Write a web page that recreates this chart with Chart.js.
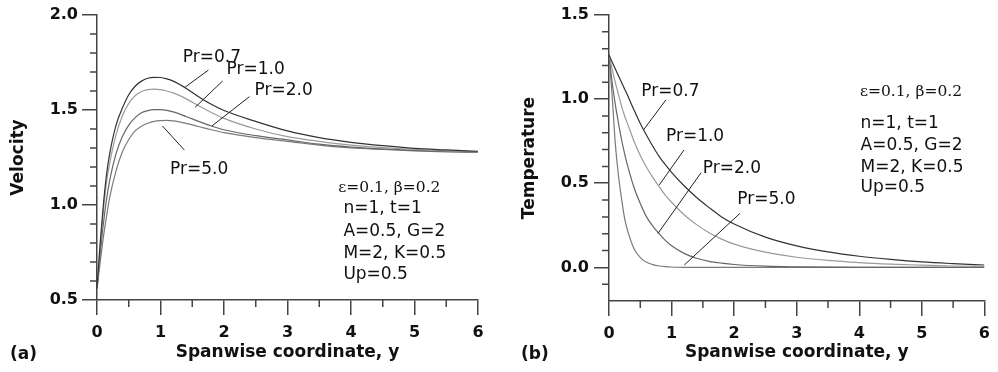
<!DOCTYPE html>
<html>
<head>
<meta charset="utf-8">
<script src="https://cdn.jsdelivr.net/npm/chart.js@4"></script>
<style>
  html, body { margin: 0; padding: 0; background: #fff; }
  #wrap { position: relative; width: 998px; height: 372px; }
  .panel { position: absolute; top: 0; height: 372px; }
  .tag { position: absolute; top: 343px; font: bold 17px "DejaVu Sans"; color: #111; }
</style>
</head>
<body>
<div id="wrap">
  <div class="panel" style="left:0;width:500px"><canvas id="velChart"></canvas></div>
  <div class="panel" style="left:500px;width:498px"><canvas id="tempChart"></canvas></div>
  <span class="tag" style="left:10px">(a)</span>
  <span class="tag" style="left:521px">(b)</span>
</div>
<script>
// ---- data ----
const yVel = [0, 0.05, 0.1, 0.15, 0.2, 0.3, 0.4, 0.5, 0.6, 0.7, 0.8, 0.9, 1.0, 1.1, 1.2, 1.4, 1.6, 1.8, 2.0, 2.5, 3.0, 3.5, 4.0, 4.5, 5.0, 5.5, 6.0];
const velPr07 = [0.56, 0.80, 1.00, 1.16, 1.27, 1.42, 1.51, 1.58, 1.625, 1.652, 1.667, 1.672, 1.671, 1.664, 1.652, 1.615, 1.57, 1.53, 1.497, 1.44, 1.39, 1.355, 1.33, 1.312, 1.298, 1.29, 1.283];
const velPr10 = [0.56, 0.78, 0.97, 1.12, 1.22, 1.37, 1.47, 1.535, 1.575, 1.597, 1.607, 1.61, 1.607, 1.60, 1.59, 1.56, 1.522, 1.487, 1.456, 1.40, 1.36, 1.335, 1.315, 1.302, 1.292, 1.285, 1.28];
const velPr20 = [0.56, 0.74, 0.90, 1.03, 1.13, 1.27, 1.36, 1.42, 1.46, 1.485, 1.497, 1.502, 1.502, 1.498, 1.49, 1.466, 1.44, 1.416, 1.396, 1.365, 1.343, 1.32, 1.305, 1.295, 1.287, 1.282, 1.278];
const velPr50 = [0.56, 0.70, 0.83, 0.94, 1.04, 1.18, 1.28, 1.345, 1.39, 1.415, 1.43, 1.44, 1.444, 1.445, 1.443, 1.43, 1.413, 1.396, 1.381, 1.355, 1.335, 1.315, 1.30, 1.292, 1.285, 1.28, 1.277];

const yTemp = [0, 0.05, 0.1, 0.15, 0.2, 0.25, 0.3, 0.4, 0.5, 0.6, 0.7, 0.8, 0.9, 1.0, 1.2, 1.4, 1.6, 1.8, 2.0, 2.5, 3.0, 3.5, 4.0, 4.5, 5.0, 5.5, 6.0];
const tempPr07 = [1.264, 1.22, 1.18, 1.14, 1.10, 1.06, 1.02, 0.935, 0.855, 0.785, 0.72, 0.66, 0.61, 0.565, 0.485, 0.415, 0.355, 0.30, 0.258, 0.18, 0.128, 0.092, 0.066, 0.047, 0.032, 0.022, 0.014];
const tempPr10 = [1.264, 1.18, 1.10, 1.03, 0.96, 0.90, 0.85, 0.75, 0.665, 0.595, 0.535, 0.48, 0.43, 0.387, 0.313, 0.254, 0.206, 0.168, 0.138, 0.09, 0.06, 0.041, 0.028, 0.019, 0.013, 0.008, 0.005];
const tempPr20 = [1.264, 1.10, 0.97, 0.86, 0.76, 0.675, 0.60, 0.475, 0.38, 0.30, 0.245, 0.20, 0.16, 0.128, 0.083, 0.054, 0.036, 0.025, 0.017, 0.007, 0.003, 0.001, 0, 0, 0, 0, 0];
const tempPr50 = [1.264, 1.02, 0.74, 0.55, 0.41, 0.29, 0.215, 0.11, 0.058, 0.03, 0.016, 0.008, 0.004, 0.002, 0, 0, 0, 0, 0, 0, 0, 0, 0, 0, 0, 0, 0];

const prNames = ["Pr=0.7", "Pr=1.0", "Pr=2.0", "Pr=5.0"];
const lineColors = ["#333", "#9a9a9a", "#666", "#7a7a7a"];
const notes = ["n=1, t=1", "A=0.5, G=2", "M=2, K=0.5", "Up=0.5"];
const noteGreek = "ε=0.1, β=0.2";

// labels with leader lines, in data units: [text x, text y], line from, line to
const velLabels = [
  { at: [1.35, 1.754], from: [1.754, 1.71], to: [1.387, 1.62] },
  { at: [2.04, 1.69], from: [1.98, 1.653], to: [1.545, 1.514] },
  { at: [2.48, 1.58], from: [2.40, 1.57], to: [1.81, 1.416] },
  { at: [1.15, 1.164], from: [1.376, 1.289], to: [1.03, 1.416] }
];
const tempLabels = [
  { at: [0.515, 1.016], from: [0.91, 0.996], to: [0.552, 0.817] },
  { at: [0.91, 0.754], from: [1.199, 0.698], to: [0.804, 0.49] },
  { at: [1.498, 0.563], from: [1.472, 0.563], to: [0.783, 0.202] },
  { at: [2.05, 0.377], from: [2.093, 0.321], to: [1.204, 0.014] }
];

const axisColor = "#444";
const tickFont = { family: "DejaVu Sans", size: 16, weight: "bold" };
const titleFont = { family: "DejaVu Sans", size: 17, weight: "bold" };

// minor ticks, leader lines, text notes
const extras = {
  id: "extras",
  afterDraw(chart, args, opts) {
    const { ctx } = chart;
    const x = chart.scales.x, y = chart.scales.y;
    ctx.save();
    ctx.strokeStyle = axisColor;
    ctx.lineWidth = 1.5;
    ctx.beginPath();
    opts.xMinor.forEach(v => {
      const px = x.getPixelForValue(v);
      ctx.moveTo(px, y.bottom);
      ctx.lineTo(px, y.bottom + 7);
    });
    opts.yMinor.forEach(v => {
      const py = y.getPixelForValue(v);
      ctx.moveTo(x.left, py);
      ctx.lineTo(x.left - 7, py);
    });
    ctx.stroke();

    ctx.strokeStyle = "#222";
    ctx.lineWidth = 1;
    ctx.fillStyle = "#111";
    ctx.font = '17px "DejaVu Sans"';
    ctx.textBaseline = "alphabetic";
    opts.labels.forEach((l, i) => {
      ctx.beginPath();
      ctx.moveTo(x.getPixelForValue(l.from[0]), y.getPixelForValue(l.from[1]));
      ctx.lineTo(x.getPixelForValue(l.to[0]), y.getPixelForValue(l.to[1]));
      ctx.stroke();
      ctx.fillText(prNames[i], x.getPixelForValue(l.at[0]), y.getPixelForValue(l.at[1]));
    });

    const n = opts.notes;
    ctx.font = '15.5px "DejaVu Serif"';
    ctx.fillText(noteGreek, x.getPixelForValue(n.greekX), y.getPixelForValue(n.greekY));
    ctx.font = '17px "DejaVu Sans"';
    notes.forEach((t, i) => {
      ctx.fillText(t, x.getPixelForValue(n.x), y.getPixelForValue(n.ys[i]));
    });
    ctx.restore();
  }
};

function makeChart(id, xs, series, cfg) {
  const datasets = series.map((s, i) => ({
    data: xs.map((v, k) => ({ x: v, y: s[k] })),
    borderColor: lineColors[i],
    borderWidth: 1.2,
    pointRadius: 0,
    cubicInterpolationMode: "monotone"
  }));
  return new Chart(document.getElementById(id), {
    type: "line",
    data: { datasets },
    plugins: [extras],
    options: {
      responsive: true,
      maintainAspectRatio: false,
      animation: false,
      events: [],
      layout: { padding: cfg.padding },
      plugins: {
        legend: { display: false },
        tooltip: { enabled: false },
        extras: { xMinor: cfg.xMinor, yMinor: cfg.yMinor, labels: cfg.labels, notes: cfg.notes }
      },
      scales: {
        x: {
          type: "linear",
          min: 0,
          max: 6,
          afterFit: s => { s.height = cfg.xHeight; },
          afterBuildTicks: s => { s.ticks = [0, 1, 2, 3, 4, 5, 6].map(v => ({ value: v })); },
          grid: { drawOnChartArea: false, tickLength: 15, color: axisColor, lineWidth: 1.5 },
          border: { color: axisColor, width: 1.5 },
          ticks: { font: tickFont, color: "#111", padding: 8, maxRotation: 0 },
          title: { display: true, text: "Spanwise coordinate, y", font: titleFont, color: "#111", padding: { bottom: 9 } }
        },
        y: {
          min: cfg.yMin,
          max: cfg.yMax,
          afterFit: s => { s.width = cfg.yWidth; },
          afterBuildTicks: s => { s.ticks = cfg.yMajor.map(v => ({ value: v })); },
          grid: { drawOnChartArea: false, tickLength: 15, color: axisColor, lineWidth: 1.5 },
          border: { color: axisColor, width: 1.5 },
          ticks: { font: tickFont, color: "#111", padding: cfg.yPad, callback: v => v.toFixed(1) },
          title: { display: true, text: cfg.yTitle, font: titleFont, color: "#111", padding: { top: cfg.titlePad } }
        }
      }
    }
  });
}

const xMinorTicks = [0.5, 1.5, 2.5, 3.5, 4.5, 5.5];

makeChart("velChart", yVel, [velPr07, velPr10, velPr20, velPr50], {
  padding: { top: 15, right: 22, left: 0, bottom: 0 },
  xHeight: 72, yWidth: 97, yPad: 4, titlePad: 8,
  yMin: 0.5, yMax: 2.0, yMajor: [0.5, 1.0, 1.5, 2.0],
  yMinor: [0.6, 0.7, 0.8, 0.9, 1.1, 1.2, 1.3, 1.4, 1.6, 1.7, 1.8, 1.9],
  xMinor: xMinorTicks,
  yTitle: "Velocity",
  labels: velLabels,
  notes: { greekX: 3.80, greekY: 1.07, x: 3.88, ys: [0.956, 0.838, 0.719, 0.609] }
});

makeChart("tempChart", yTemp, [tempPr07, tempPr10, tempPr20, tempPr50], {
  padding: { top: 15, right: 9, left: 0, bottom: 0 },
  xHeight: 71, yWidth: 109, yPad: 5, titlePad: 19,
  yMin: -0.2, yMax: 1.5, yMajor: [0, 0.5, 1.0, 1.5],
  yMinor: [-0.1, 0.1, 0.2, 0.3, 0.4, 0.6, 0.7, 0.8, 0.9, 1.1, 1.2, 1.3, 1.4],
  xMinor: xMinorTicks,
  yTitle: "Temperature",
  labels: tempLabels,
  notes: { greekX: 4.01, greekY: 1.021, x: 4.02, ys: [0.827, 0.698, 0.569, 0.45] }
});
</script>
</body>
</html>
